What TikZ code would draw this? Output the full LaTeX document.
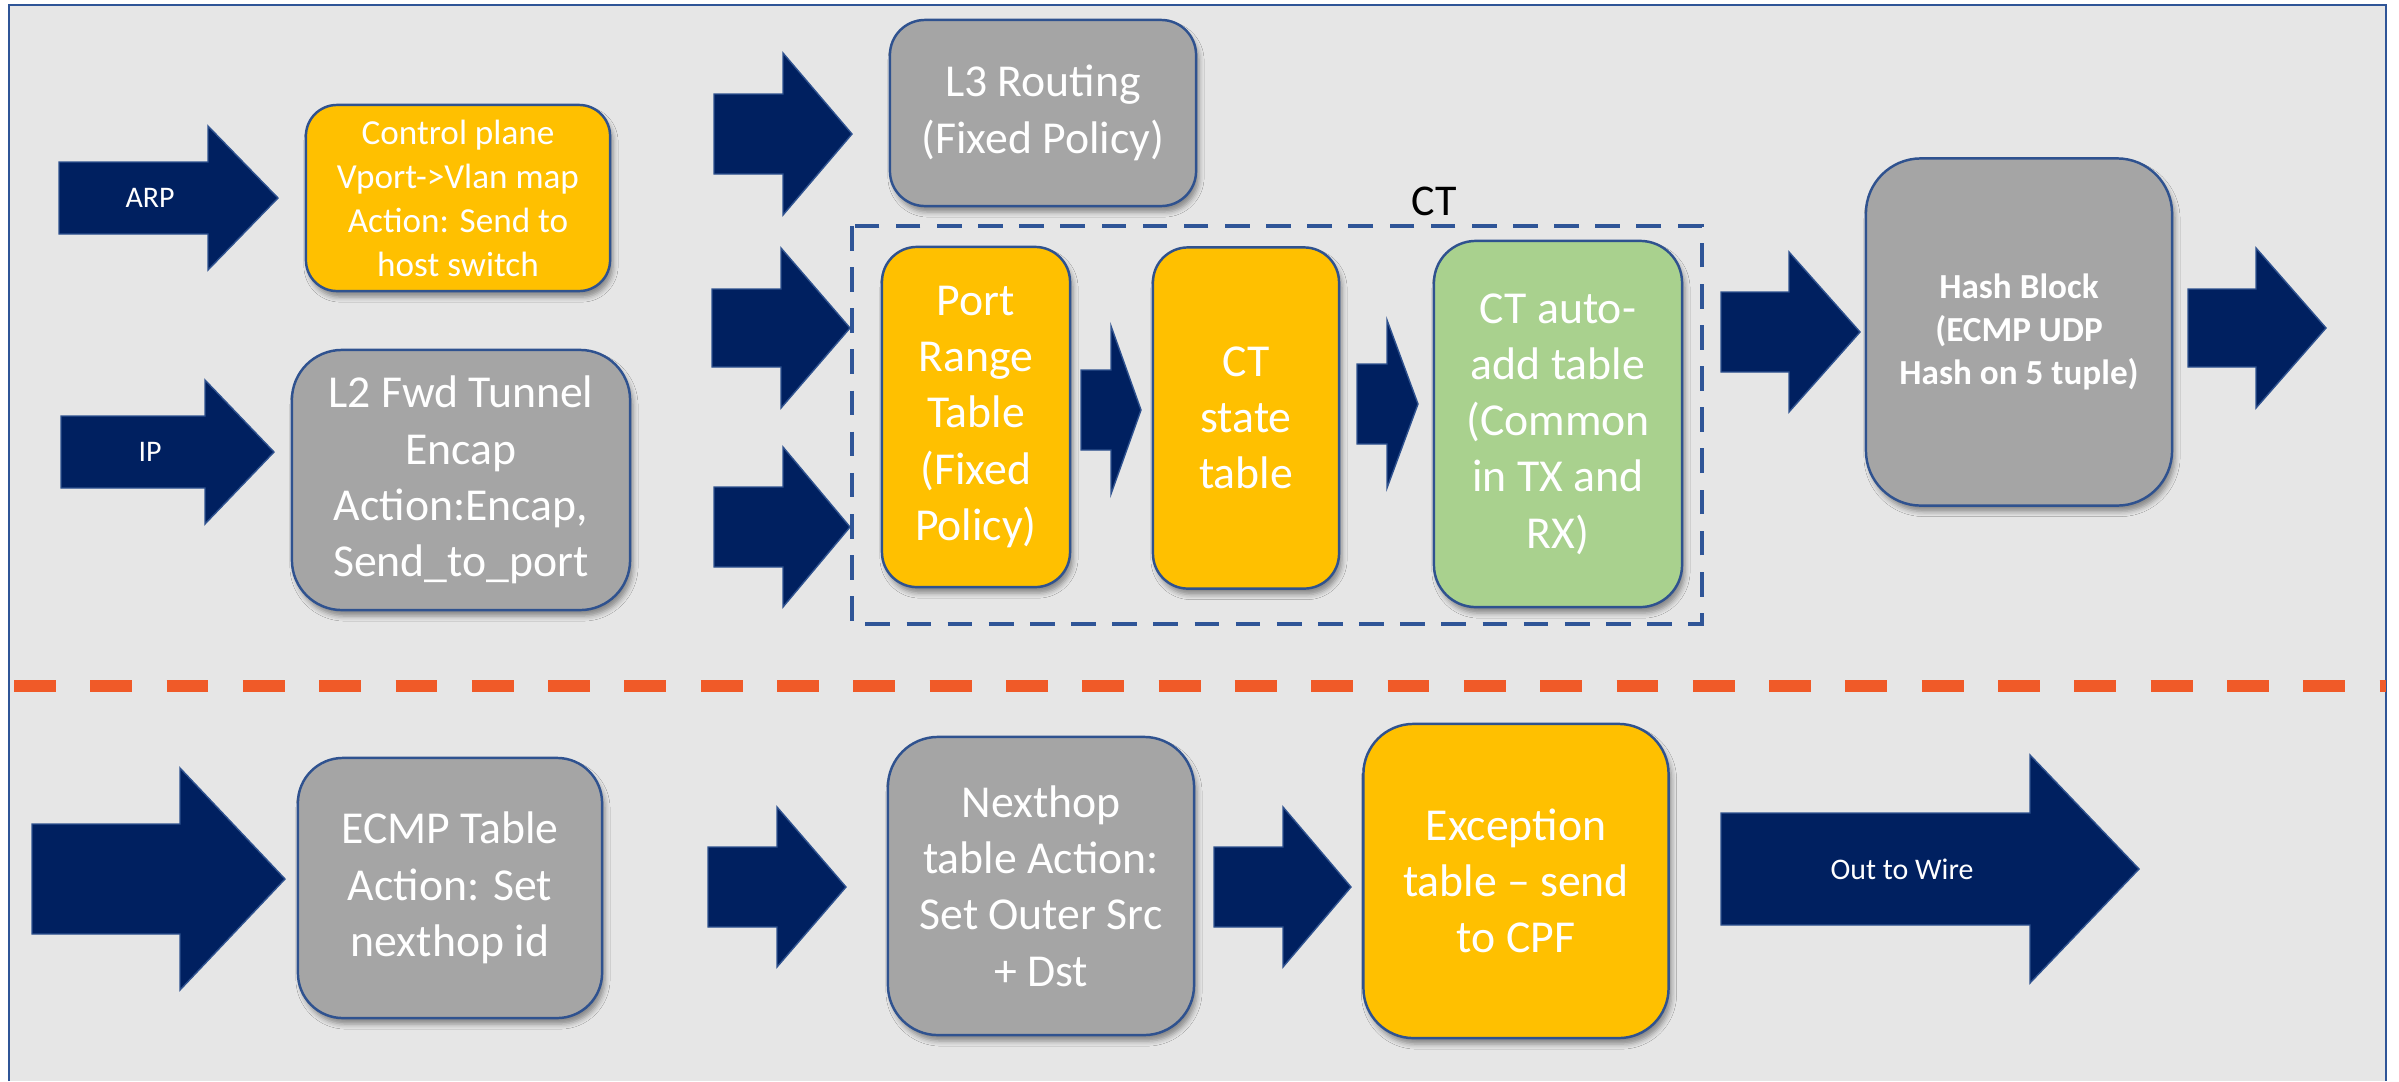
\documentclass[tikz,border=0pt]{standalone}
\usepackage{fontspec}
\setmainfont{Carlito}
\usetikzlibrary{shadows.blur}

\definecolor{panel}{HTML}{E6E6E6}
\definecolor{frameblue}{HTML}{2F5597}
\definecolor{edgeblue}{HTML}{2F528F}
\definecolor{navy}{HTML}{002060}
\definecolor{amber}{HTML}{FFC000}
\definecolor{slate}{HTML}{A5A5A5}
\definecolor{leaf}{HTML}{A9D18E}
\definecolor{split}{HTML}{F05A28}

\tikzset{
  tbl/.style={draw=edgeblue, line width=0.7pt, text=white, align=center, inner sep=0pt,
    blur shadow={shadow xshift=0.03cm, shadow yshift=-0.06cm, shadow blur radius=0.05cm, shadow opacity=40}},
  ambertbl/.style={tbl, fill=amber},
  greytbl/.style={tbl, fill=slate},
  greentbl/.style={tbl, fill=leaf},
  bigtxt/.style={font=\fontsize{13}{16}\selectfont},
  blockarrow/.style={fill=navy, draw=edgeblue, line width=0.4pt},
  arrowtxt/.style={text=white, font=\fontsize{8.5}{10}\selectfont, inner sep=0pt},
}

% block arrow: name, shaft start x, head start x, tip x, centre y, shaft half height, head half height
\newcommand\blockarr[7]{%
  \path[blockarrow] (#2,#5-#6) -- (#3,#5-#6) -- (#3,#5-#7) -- (#4,#5)
    -- (#3,#5+#7) -- (#3,#5+#6) -- (#2,#5+#6) -- cycle;
  \coordinate (#1) at ({(#2+#4)/2},#5);
}

\begin{document}
\begin{tikzpicture}[x=0.01cm, y=-0.01cm]
  % canvas and panel frame
  \useasboundingbox (0,0) rectangle (2399,1081);
  \fill[white] (0,0) rectangle (2399,1081);
  \fill[panel] (9,5) rectangle (2386,1081);
  \draw[frameblue, line width=0.8pt] (9,1081) -- (9,5) -- (2386,5) -- (2386,1081);

  % separator between the two stages
  \draw[split, line width=3.4pt, dash pattern=on 11.9pt off 9.8pt] (14,686) -- (2386,686);

  % conntrack group
  \draw[frameblue, line width=1.25pt, dash pattern=on 7pt off 4.7pt] (852,226) rectangle (1702,624);
  \node[font=\fontsize{12.5}{15}\selectfont, inner sep=0pt] (ctlbl) at (1434,201) {CT};

  % upper stage
  \blockarr{arrARP}{59}{208}{278}{198}{36}{72}
  \node[arrowtxt] (lblARP) at (150,198) {ARP};
  \blockarr{arrIP}{61}{205}{274}{452}{36}{72}
  \node[arrowtxt] (lblIP) at (150,452) {IP};

  \node[ambertbl, minimum width=3.04cm, minimum height=1.86cm, rounded corners=0.31cm,
        font=\fontsize{10}{12.5}\selectfont] (ctrl) at (458,198)
    {Control plane\\Vport->Vlan map\\Action: Send to\\host switch};
  \node[greytbl, bigtxt, minimum width=3.38cm, minimum height=2.60cm, rounded corners=0.5cm] (l2) at (461,480)
    {L2 Fwd Tunnel\\Encap\\Action:Encap,\\Send\_to\_port};

  \blockarr{arrL3}{714}{783}{852}{134}{40}{81}
  \blockarr{arrCTa}{712}{781}{850}{328}{39}{80}
  \blockarr{arrCTb}{714}{783}{850}{527}{40}{80}

  \node[greytbl, bigtxt, minimum width=3.06cm, minimum height=1.86cm, rounded corners=0.35cm] (l3) at (1043,113)
    {L3 Routing\\(Fixed Policy)};
  \node[ambertbl, bigtxt, minimum width=1.88cm, minimum height=3.40cm, rounded corners=0.35cm] (port) at (976,417)
    {Port\\Range\\Table\\(Fixed\\Policy)};
  \blockarr{arrPS}{1081}{1111}{1141}{410}{40}{84}
  \node[ambertbl, bigtxt, minimum width=1.86cm, minimum height=3.41cm, rounded corners=0.35cm] (ctstate) at (1246,418)
    {CT\\state\\table};
  \blockarr{arrSA}{1357}{1387}{1418}{404}{40}{84}
  \node[greentbl, bigtxt, minimum width=2.48cm, minimum height=3.66cm, rounded corners=0.42cm] (ctauto) at (1558,424)
    {CT auto-\\add table\\(Common\\in TX and\\RX)};

  \blockarr{arrHash}{1721}{1789}{1860}{332}{40}{80}
  \node[greytbl, minimum width=3.06cm, minimum height=3.47cm, rounded corners=0.55cm,
        font=\fontsize{10}{12.2}\selectfont\bfseries] (hash) at (2019,332)
    {Hash Block\\(ECMP UDP\\Hash on 5 tuple)};
  \blockarr{arrHashOut}{2188}{2256}{2326}{328}{39}{80}

  % lower stage
  \blockarr{arrECMP}{32}{180}{285}{879}{55}{111}
  \node[greytbl, bigtxt, minimum width=3.04cm, minimum height=2.60cm, rounded corners=0.45cm] (ecmp) at (450,888)
    {ECMP Table\\Action: Set\\nexthop id};
  \blockarr{arrNH}{708}{777}{846}{887}{40}{80}
  \node[greytbl, bigtxt, minimum width=3.06cm, minimum height=2.98cm, rounded corners=0.5cm] (nexthop) at (1041,886)
    {Nexthop\\table Action:\\Set Outer Src\\+ Dst};
  \blockarr{arrEx}{1214}{1283}{1351}{887}{40}{80}
  \node[ambertbl, bigtxt, minimum width=3.05cm, minimum height=3.14cm, rounded corners=0.5cm] (except) at (1516,881)
    {Exception\\table – send\\to CPF};
  \blockarr{arrWire}{1721}{2030}{2139}{869}{56}{114}
  \node[arrowtxt] (lblWire) at (1902,869) {Out to Wire};
\end{tikzpicture}
\end{document}
